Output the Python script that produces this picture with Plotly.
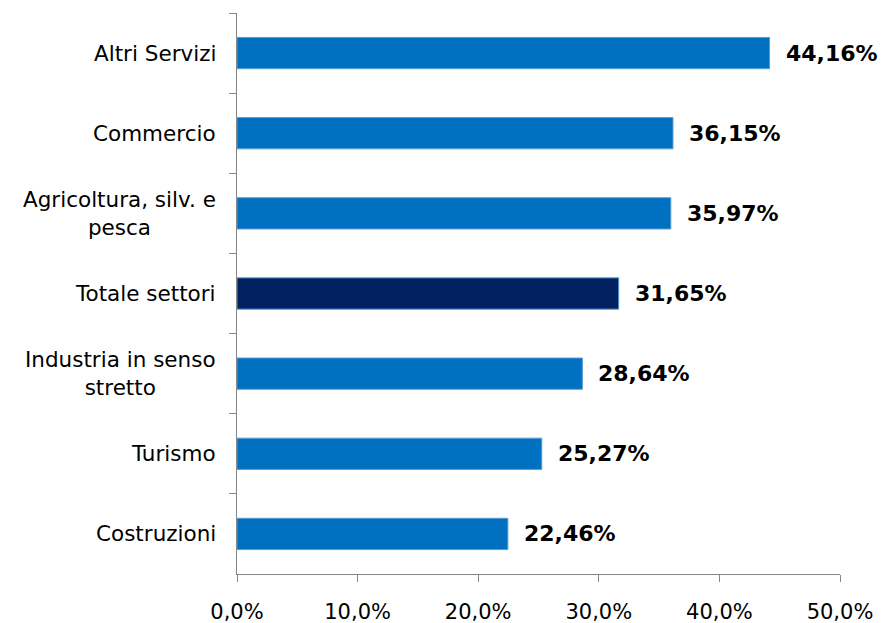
import plotly.graph_objects as go

# settori, dall'alto verso il basso
categorie = ["Altri Servizi", "Commercio", "Agricoltura, silv. e<br>pesca",
             "Totale settori", "Industria in senso<br>stretto", "Turismo", "Costruzioni"]
valori = [44.16, 36.15, 35.97, 31.65, 28.64, 25.27, 22.46]
colori = ["#0070C0", "#0070C0", "#0070C0", "#002060", "#0070C0", "#0070C0", "#0070C0"]
x_ticks = [0, 10, 20, 30, 40, 50]
x_ticktext = ["0,0%", "10,0%", "20,0%", "30,0%", "40,0%", "50,0%"]

FONT = "DejaVu Sans"

fig = go.Figure()
fig.add_trace(go.Bar(
    x=valori, y=categorie, orientation="h", width=0.39,
    marker=dict(color=colori, line=dict(color="#5B9BD5", width=1)),
    hoverinfo="skip",
))

annotations = []
# etichette dei settori, centrate su piu' righe
for c in categorie:
    annotations.append(dict(
        x=0, xref="paper", y=c, yref="y", text=c, showarrow=False,
        xanchor="right", align="center", xshift=-19,
        font=dict(family=FONT, size=21.5, color="#000000"),
    ))
# valori in grassetto a destra delle barre
for c, v in zip(categorie, valori):
    annotations.append(dict(
        x=v, xref="x", y=c, yref="y", text="<b>" + f"{v:.2f}".replace(".", ",") + "%</b>",
        showarrow=False, xanchor="left", xshift=14,
        font=dict(family=FONT, size=22, color="#000000"),
    ))

fig.update_layout(
    width=884, height=623,
    margin=dict(l=237, r=44, t=13, b=49),
    paper_bgcolor="white", plot_bgcolor="white",
    showlegend=False,
    annotations=annotations,
    font=dict(family=FONT, size=21, color="#000000"),
)
fig.update_xaxes(
    range=[0, 50], tickvals=x_ticks, ticktext=x_ticktext, automargin=False,
    showgrid=False, zeroline=False, showline=True, linecolor="#868686", linewidth=1,
    ticks="outside", ticklen=7, tickcolor="#868686", ticklabelstandoff=12,
    tickfont=dict(family=FONT, size=21, color="#000000"),
)
fig.update_yaxes(
    autorange="reversed", showticklabels=False, tickson="boundaries", automargin=False,
    showgrid=False, zeroline=False, showline=True, linecolor="#868686", linewidth=1,
    ticks="outside", ticklen=7, tickcolor="#868686",
)

# niente margine del body, cosi' la figura occupa tutta la finestra
fig.write_html("out.html", config={"displayModeBar": False},
               post_script="document.body.style.margin='0';")
